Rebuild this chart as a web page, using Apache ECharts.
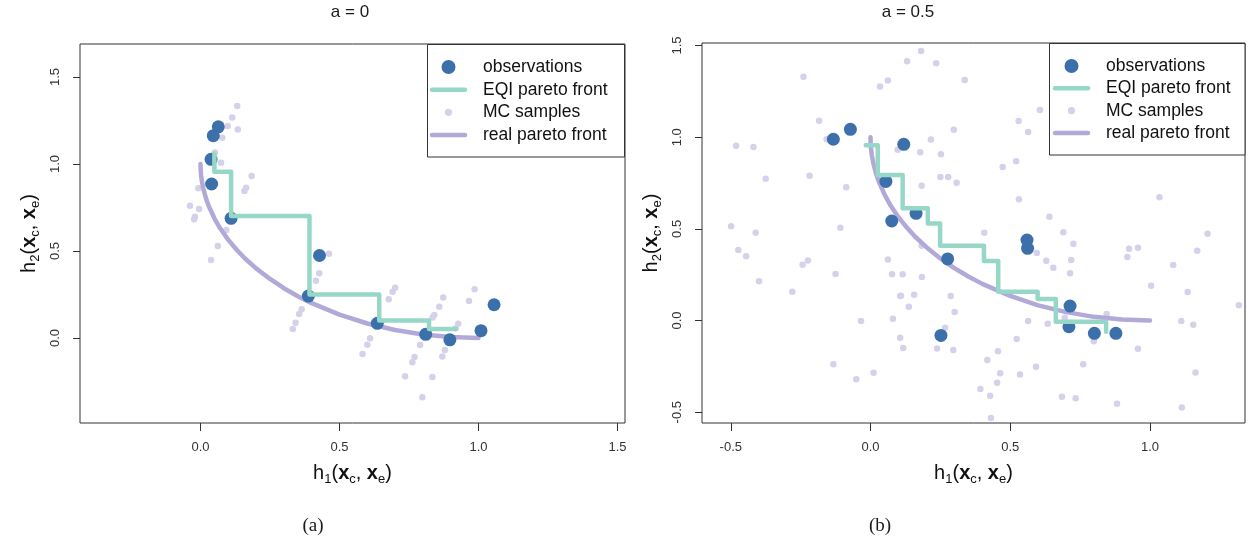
<!DOCTYPE html>
<html><head><meta charset="utf-8">
<script src="https://cdn.jsdelivr.net/npm/echarts@6/dist/echarts.min.js"></script>
<style>html,body{margin:0;padding:0;background:#fff}#c{width:1252px;height:541px}</style>
</head><body><div id="c"></div>
<script>
// ---------- data ----------
const panelTitles = ['a = 0', 'a = 0.5'];
const captions = ['(a)', '(b)'];
const seriesNames = ['observations', 'EQI pareto front', 'MC samples', 'real pareto front'];
const xTicksA = [0, 0.5, 1, 1.5];
const yTicksA = [0, 0.5, 1, 1.5];
const xTicksB = [-0.5, 0, 0.5, 1];
const yTicksB = [-0.5, 0, 0.5, 1, 1.5];

// real pareto front (same in both panels)
const frontX = [0, 0.0005, 0.002, 0.005, 0.01, 0.02, 0.03, 0.05, 0.07, 0.1, 0.13, 0.16, 0.2, 0.25, 0.3, 0.35, 0.4, 0.5, 0.6, 0.7, 0.8, 0.9, 1.0];
const frontY = [1.0, 0.968, 0.937, 0.900, 0.859, 0.801, 0.757, 0.688, 0.632, 0.564, 0.507, 0.457, 0.400, 0.339, 0.286, 0.240, 0.200, 0.134, 0.083, 0.046, 0.020, 0.005, 0.0];

// panel (a): a = 0
const obsAX = [0.064, 0.046, 0.038, 0.040, 0.110, 0.428, 0.388, 0.636, 0.810, 0.897, 1.009, 1.056];
const obsAY = [1.214, 1.163, 1.027, 0.885, 0.688, 0.474, 0.241, 0.084, 0.021, -0.011, 0.042, 0.191];
const eqiAX = [0.050, 0.050, 0.110, 0.110, 0.392, 0.392, 0.643, 0.643, 0.822, 0.822, 0.918];
const eqiAY = [1.061, 0.955, 0.955, 0.701, 0.701, 0.250, 0.250, 0.100, 0.100, 0.052, 0.052];
const mcAX = [0.132, 0.114, 0.098, 0.134, 0.078, 0.052, 0.074, 0.184, 0.164, 0.158, -0.008, -0.038, -0.005, -0.020, -0.023, 0.062, 0.038, 0.093, 0.462, 0.427, 0.415, 0.364, 0.355, 0.342, 0.332, 0.700, 0.691, 0.677, 0.610, 0.600, 0.583, 0.873, 0.859, 0.841, 0.835, 0.790, 0.770, 0.762, 0.736, 0.834, 0.798, 0.986, 0.966, 0.927, 0.918, 0.879, 0.870];
const mcAY = [1.333, 1.268, 1.218, 1.199, 1.151, 1.066, 1.007, 0.931, 0.864, 0.845, 0.860, 0.760, 0.741, 0.697, 0.682, 0.529, 0.448, 0.621, 0.484, 0.372, 0.329, 0.165, 0.138, 0.088, 0.052, 0.289, 0.266, 0.222, -0.002, -0.039, -0.092, 0.232, 0.180, 0.132, 0.117, -0.040, -0.109, -0.140, -0.220, -0.224, -0.341, 0.280, 0.213, 0.082, 0.056, -0.069, -0.107];

// panel (b): a = 0.5
const obsBX = [-0.133, -0.072, 0.119, 0.055, 0.076, 0.163, 0.276, 0.560, 0.562, 0.714, 0.710, 0.801, 0.878, 0.252];
const obsBY = [0.989, 1.043, 0.961, 0.759, 0.543, 0.585, 0.336, 0.439, 0.394, 0.079, -0.034, -0.070, -0.070, -0.081];
const eqiBX = [-0.017, 0.026, 0.026, 0.115, 0.115, 0.205, 0.205, 0.249, 0.249, 0.406, 0.406, 0.457, 0.457, 0.598, 0.598, 0.663, 0.663, 0.843, 0.843];
const eqiBY = [0.956, 0.956, 0.794, 0.794, 0.612, 0.612, 0.530, 0.530, 0.408, 0.408, 0.325, 0.325, 0.157, 0.157, 0.117, 0.117, -0.007, -0.007, -0.061];
const mcBX = [-0.240, -0.184, -0.157, -0.481, -0.419, -0.375, -0.218, -0.087, -0.499, -0.411, -0.108, 0.034, 0.062, 0.131, 0.181, 0.235, 0.097, 0.178, 0.183, 0.216, 0.337, 0.606, 0.530, 0.564, 0.298, 0.252, 0.521, 0.473, 0.250, 0.278, 0.308, 0.531, 1.034, -0.473, -0.445, -0.399, -0.243, -0.224, -0.125, -0.280, 0.062, 0.077, 0.106, -0.034, 0.080, 0.106, -0.133, -0.051, 0.011, 0.407, 0.183, 0.115, 0.184, 0.109, 0.156, 0.137, 0.287, 0.301, 0.117, 0.238, 0.296, 0.267, 0.629, 0.654, 0.718, 0.714, 0.595, 0.564, 0.634, 0.845, 0.799, 0.523, 0.456, 0.418, 0.464, 0.453, 0.393, 0.428, 0.431, 0.535, 0.592, 0.761, 0.685, 0.734, 0.882, 0.957, 0.925, 0.957, 0.919, 1.004, 1.083, 1.169, 1.206, 1.135, 1.112, 1.155, 1.163, 1.114, 1.318, 0.640, 0.690, 0.726, 0.695];
const mcBY = [1.330, 1.090, 0.989, 0.954, 0.947, 0.774, 0.790, 0.727, 0.514, 0.479, 0.506, 1.277, 1.309, 1.414, 1.471, 1.403, 0.932, 0.918, 0.735, 0.987, 1.312, 1.148, 1.088, 1.028, 1.041, 0.907, 0.869, 0.837, 0.783, 0.783, 0.751, 0.662, 0.673, 0.385, 0.350, 0.214, 0.304, 0.328, 0.254, 0.157, 0.333, 0.252, 0.134, -0.003, 0.010, -0.094, -0.239, -0.321, -0.285, 0.479, 0.408, 0.252, 0.237, 0.135, 0.141, 0.075, 0.134, 0.046, -0.150, -0.152, -0.161, -0.039, 0.326, 0.288, 0.330, 0.258, 0.368, -0.003, -0.017, 0.035, -0.113, -0.101, -0.168, -0.215, -0.288, -0.339, -0.374, -0.410, -0.532, -0.294, -0.252, -0.239, -0.416, -0.424, -0.454, -0.154, 0.392, 0.397, 0.346, 0.190, 0.303, 0.381, 0.474, 0.155, -0.003, -0.023, -0.283, -0.474, 0.083, 0.566, 0.481, 0.419, 0.015];

// ---------- styling ----------
const F = '"Liberation Sans", Arial, Helvetica, sans-serif';
const FS = '"Liberation Serif", "Times New Roman", serif';
const C_OBS = '#3b70aa', C_EQI = '#97d7c7', C_MC = '#d6d1eb', C_REAL = '#b3a9d9';
const AX = '#333';
const seriesColors = { 'observations': C_OBS, 'EQI pareto front': C_EQI, 'MC samples': C_MC, 'real pareto front': C_REAL };

function pairs(xs, ys) { return xs.map((x, i) => [x, ys[i]]); }

const nameRich = {
  n: { fontSize: 20, fontFamily: F, color: '#111', verticalAlign: 'bottom', padding: [0, 0, 3, 0] },
  b: { fontSize: 20, fontFamily: F, color: '#111', fontWeight: 'bold', verticalAlign: 'bottom', padding: [0, 0, 3, 0] },
  s: { fontSize: 13, fontFamily: F, color: '#111', verticalAlign: 'bottom' }
};
const xName = '{n|h}{s|1}{n|(}{b|x}{s|c}{n|, }{b|x}{s|e}{n|)}';
const yName = '{n|h}{s|2}{n|(}{b|x}{s|c}{n|, }{b|x}{s|e}{n|)}';

function axisCfg(dim, gi, min, max, ticks, name) {
  const isY = dim === 'y';
  return {
    type: 'value', gridIndex: gi, min: min, max: max,
    axisLine: { show: false, onZero: false },
    splitLine: { show: false },
    axisTick: { show: true, inside: false, length: isY ? 7 : 8, customValues: ticks, lineStyle: { color: AX, width: 1 } },
    axisLabel: { customValues: ticks, formatter: v => v.toFixed(1), margin: 18, fontSize: 13, color: AX, fontFamily: F, rotate: isY ? 90 : 0 },
    name: name, nameLocation: 'middle', nameGap: isY ? 38 : 40, nameRotate: isY ? 90 : 0,
    nameTextStyle: { rich: nameRich }
  };
}

function panelSeries(gi, mcX, mcY, obsX, obsY, eqiX, eqiY) {
  return [
    { name: seriesNames[2], type: 'scatter', xAxisIndex: gi, yAxisIndex: gi, data: pairs(mcX, mcY), symbol: 'circle', symbolSize: 6.5, itemStyle: { color: C_MC, opacity: 1 }, z: 1, silent: true },
    { name: seriesNames[3], type: 'line', xAxisIndex: gi, yAxisIndex: gi, data: pairs(frontX, frontY), symbol: 'none', itemStyle: { color: C_REAL }, lineStyle: { color: C_REAL, width: 4.5, cap: 'round', join: 'round' }, z: 2, silent: true },
    { name: seriesNames[0], type: 'scatter', xAxisIndex: gi, yAxisIndex: gi, data: pairs(obsX, obsY), symbol: 'circle', symbolSize: 13, itemStyle: { color: C_OBS, opacity: 1 }, z: 3, silent: true },
    { name: seriesNames[1], type: 'line', xAxisIndex: gi, yAxisIndex: gi, data: pairs(eqiX, eqiY), symbol: 'none', itemStyle: { color: C_EQI }, lineStyle: { color: C_EQI, width: 4.5, cap: 'round', join: 'round' }, z: 4, silent: true }
  ];
}

// legend drawn as a boxed key (R-style) for each panel
function legendGraphics(box, iconX, textX, rows) {
  const els = [
    { type: 'rect', shape: box, style: { fill: '#fff', stroke: AX, lineWidth: 1 }, z: 10, silent: true }
  ];
  const cx = iconX + 18.5;
  seriesNames.forEach((nm, i) => {
    const y = rows[i], col = seriesColors[nm];
    if (nm === 'observations') {
      els.push({ type: 'circle', shape: { cx: cx, cy: y, r: 7 }, style: { fill: col }, z: 11, silent: true });
    } else if (nm === 'MC samples') {
      els.push({ type: 'circle', shape: { cx: cx, cy: y, r: 3.6 }, style: { fill: col }, z: 11, silent: true });
    } else {
      els.push({ type: 'line', shape: { x1: iconX + 2, y1: y, x2: iconX + 35, y2: y }, style: { stroke: col, lineWidth: 4.5, lineCap: 'round' }, z: 11, silent: true });
    }
    els.push({ type: 'text', x: textX, y: y, style: { text: nm, fontSize: 17.5, fontFamily: F, fill: '#111', align: 'left', verticalAlign: 'middle', textAlign: 'left', textVerticalAlign: 'middle' }, z: 11, silent: true });
  });
  return els;
}

function textEl(str, x, y, size, fam) {
  return { type: 'text', x: x, y: y, style: { text: str, fontSize: size, fontFamily: fam, fill: '#1a1a1a', align: 'center', verticalAlign: 'middle', textAlign: 'center', textVerticalAlign: 'middle' }, z: 10, silent: true };
}

const option = {
  animation: false,
  backgroundColor: '#fff',
  grid: [
    { left: 80, top: 44, width: 545, height: 379, show: true, borderColor: AX, borderWidth: 1, backgroundColor: 'transparent' },
    { left: 702, top: 43, width: 543, height: 380, show: true, borderColor: AX, borderWidth: 1, backgroundColor: 'transparent' }
  ],
  xAxis: [
    axisCfg('x', 0, -0.4335, 1.527, xTicksA, xName),
    axisCfg('x', 1, -0.603, 1.340, xTicksB, xName)
  ],
  yAxis: [
    axisCfg('y', 0, -0.489, 1.690, yTicksA, yName),
    axisCfg('y', 1, -0.559, 1.514, yTicksB, yName)
  ],
  graphic: [].concat(
    legendGraphics({ x: 427.5, y: 44.5, width: 197, height: 112.5 }, 430, 483, [67, 89.7, 112.3, 135]),
    legendGraphics({ x: 1049.5, y: 43.5, width: 195.5, height: 111.5 }, 1053, 1106, [66, 88.3, 110.7, 133]),
    [
      textEl(panelTitles[0], 350, 12, 17, F),
      textEl(panelTitles[1], 908, 12, 17, F),
      textEl(captions[0], 313, 526, 19, FS),
      textEl(captions[1], 880, 526, 19, FS)
    ]
  ),
  series: [].concat(
    panelSeries(0, mcAX, mcAY, obsAX, obsAY, eqiAX, eqiAY),
    panelSeries(1, mcBX, mcBY, obsBX, obsBY, eqiBX, eqiBY)
  )
};
const chart = echarts.init(document.getElementById('c'), null, { renderer: 'canvas' });
chart.setOption(option);
</script>
</body></html>
